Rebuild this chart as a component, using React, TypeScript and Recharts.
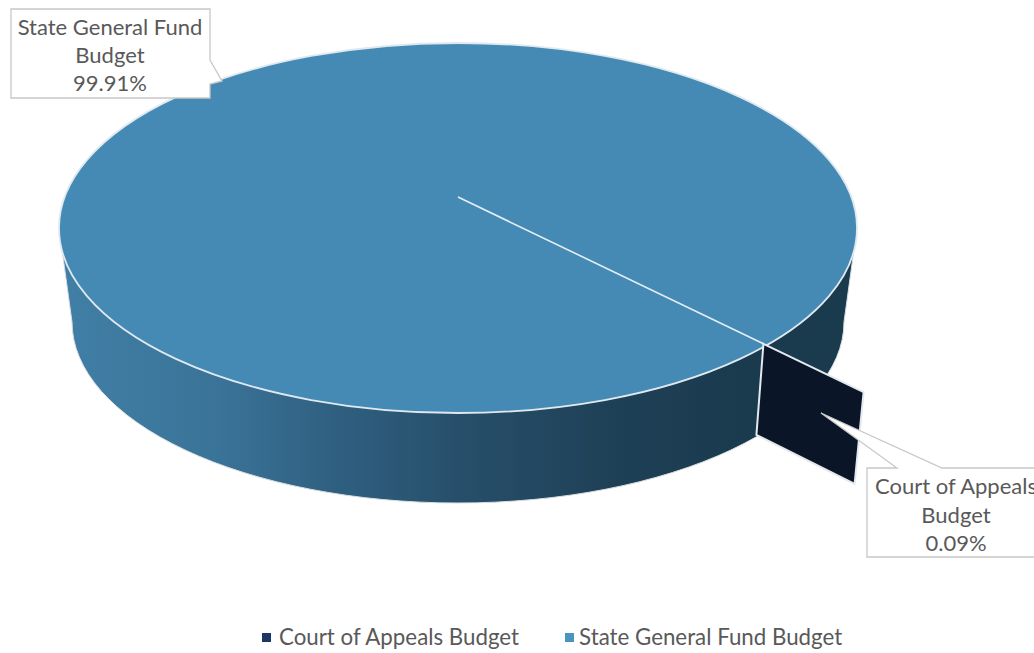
import React from "react";
import { PieChart, Pie, Cell, Legend } from "recharts";

const sliceNames = ["State General Fund Budget", "Court of Appeals Budget"];
const sliceValues = [99.91, 0.09];
const legendColors = ["#4a94c0", "#1c3763"];
const sliceColors = ["#448ab5", "#0a1628"];
const labelLines: Record<string, string[]> = {
  "State General Fund Budget": ["State General Fund", "Budget"],
  "Court of Appeals Budget": ["Court of Appeals", "Budget"],
};

const data = sliceNames.map((name, i) => ({ name, value: sliceValues[i] }));

const W = 1034;
const H = 653;
const CX = 458;
const CY = 228;
const RX = 399;
const TILT = 185 / 399;
const APEX_OFFSET = -31;
const RIM_INSET = 0.99;
const EXPLODE = 0.328;
const BOTTOM = { cy: 322, rx: 386, ry: 181 };
const RIM = "#dfe9ef";
const FONT = "Lato, 'Open Sans', sans-serif";
const TEXT = "#595959";

const callouts: Record<string, { path: string; x: number; y: number; gap: number }> = {
  "State General Fund Budget": {
    path: "M11,9 L210,9 L210,60 L222,81 L210,84 L210,98 L11,98 Z",
    x: 110,
    y: 35,
    gap: 28,
  },
  "Court of Appeals Budget": {
    path: "M867,468 L897,468 L821,413 L942,468 L1100,468 L1100,557 L867,557 Z",
    x: 956,
    y: 494,
    gap: 28.5,
  },
};

function SliceShape(props: any) {
  const { cx, cy, outerRadius, startAngle, endAngle, fill } = props;
  const ry = outerRadius * TILT;
  const pt = (deg: number) => {
    const a = (deg * Math.PI) / 180;
    return [cx + outerRadius * Math.cos(a), cy - ry * Math.sin(a)];
  };
  const apex = [cx, cy + APEX_OFFSET];
  const sweep = Math.abs(endAngle - startAngle);
  if (sweep > 180) {
    const wall = `M${cx - outerRadius},${cy} L${cx - BOTTOM.rx},${BOTTOM.cy} A${BOTTOM.rx},${BOTTOM.ry} 0 0 0 ${cx + BOTTOM.rx},${BOTTOM.cy} L${cx + outerRadius},${cy} Z`;
    return (
      <g>
        <defs>
          <linearGradient id="wallGrad" gradientUnits="userSpaceOnUse" x1={cx - outerRadius} x2={cx + outerRadius} y1={0} y2={0}>
            <stop offset="0" stopColor="#417fa6" />
            <stop offset="0.2" stopColor="#3a7398" />
            <stop offset="0.35" stopColor="#2f5f80" />
            <stop offset="0.5" stopColor="#274f6b" />
            <stop offset="0.7" stopColor="#1e4056" />
            <stop offset="0.85" stopColor="#1a3a4e" />
            <stop offset="1" stopColor="#1a3a4e" />
          </linearGradient>
        </defs>
        <path d={wall} fill="url(#wallGrad)" stroke="#d9dfe3" strokeWidth={1} />
        <ellipse cx={cx} cy={cy} rx={outerRadius} ry={ry} fill={fill} stroke={RIM} strokeWidth={1.8} />
      </g>
    );
  }
  const edge = pt((startAngle + endAngle) / 2);
  const mid = [apex[0] + RIM_INSET * (edge[0] - apex[0]), apex[1] + RIM_INSET * (edge[1] - apex[1])];
  const outer = [mid[0] + EXPLODE * (mid[0] - apex[0]), mid[1] + EXPLODE * (mid[1] - apex[1])];
  const quad = [
    mid,
    outer,
    [outer[0] - 9, outer[1] + 92],
    [mid[0] - 7, mid[1] + 91],
  ];
  return (
    <g>
      <path
        d={`M${quad.map((p) => p.join(",")).join(" L")} Z`}
        fill={fill}
        stroke="#e4e9ee"
        strokeWidth={2}
      />
      <line x1={apex[0]} y1={apex[1]} x2={mid[0]} y2={mid[1]} stroke="#e4eef4" strokeWidth={1.6} />
    </g>
  );
}

function CalloutLabel(props: any) {
  const { name, value } = props;
  const c = callouts[name];
  const lines = [...labelLines[name], `${Number(value).toFixed(2)}%`];
  return (
    <g>
      <path d={c.path} fill="#ffffff" stroke="#c8c8c8" strokeWidth={1.3} />
      {lines.map((l, i) => (
        <text
          key={i}
          x={c.x}
          y={c.y + i * c.gap}
          textAnchor="middle"
          fontFamily={FONT}
          fontSize={22}
          fill={TEXT}
        >
          {l}
        </text>
      ))}
    </g>
  );
}

function LegendBox(props: any) {
  const items = [...(props.payload ?? [])];
  return (
    <div style={{ display: "flex", justifyContent: "flex-start", paddingLeft: 262, fontFamily: FONT, fontSize: 22.3, color: TEXT, lineHeight: "28px" }}>
      {items.map((it: any, i: number) => {
        const idx = sliceNames.indexOf(it.value);
        return (
          <div key={i} style={{ display: "flex", alignItems: "center", marginRight: 46 }}>
            <span style={{ width: 9, height: 9, background: legendColors[idx], marginRight: i === 0 ? 8 : 5, display: "inline-block" }} />
            <span>{it.value}</span>
          </div>
        );
      })}
    </div>
  );
}

export default function App() {
  return (
    <div style={{ position: "fixed", left: 0, top: 0, width: W, height: H, overflow: "hidden", background: "#fff" }}>
      <PieChart width={W} height={H} margin={{ top: 0, right: 0, bottom: 0, left: 0 }}>
        <Pie
          data={data}
          dataKey="value"
          nameKey="name"
          cx={CX}
          cy={CY}
          innerRadius={0}
          outerRadius={RX}
          startAngle={-39.52}
          endAngle={-399.52}
          paddingAngle={0}
          stroke="none"
          isAnimationActive={false}
          shape={SliceShape}
          label={CalloutLabel}
          labelLine={false}
        >
          {data.map((d, i) => (
            <Cell key={d.name} fill={sliceColors[i]} />
          ))}
        </Pie>
        <Legend
          content={LegendBox}
          itemSorter="value"
          wrapperStyle={{ position: "absolute", left: 0, top: 623, width: W, height: 28 }}
        />
      </PieChart>
    </div>
  );
}
